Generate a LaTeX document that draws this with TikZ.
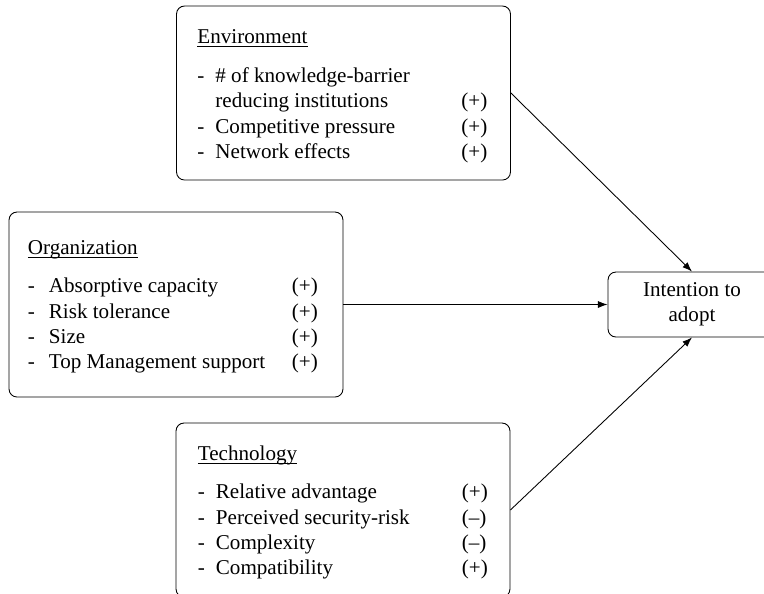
\documentclass[tikz,border=0pt]{standalone}
\usepackage{fontspec}
\setmainfont{Liberation Serif}
\usepackage{array}
\usetikzlibrary{arrows.meta}
\usetikzlibrary{positioning}
\tikzset{box/.style = {draw, rounded corners=4.5pt, line width=0.5pt, inner sep=0, minimum width=6.68cm}}
\tikzset{factors/.style = {anchor=base west, inner sep=0, font=\fontsize{12}{14.3}\selectfont}}
\tikzset{arr/.style = {-{Latex[length=5.5pt, width=4pt]}, line width=0.5pt}}
\newcommand{\heading}[1]{\multicolumn{3}{@{}l@{}}{\underline{\smash{#1}}}}

\begin{document}
\begin{tikzpicture}[x=0.02cm, y=-0.02cm]
    \clip (0, 0) rectangle (764, 593);

    \node [box, minimum height=3.48cm] (env) at (343.5, 93) {};
    \node [box, minimum height=3.7cm] (org) at (176, 304.5) {};
    \node [box, minimum height=3.48cm] (tech) at (343, 510) {};
    \node [box, minimum width=3.36cm, minimum height=1.3cm, align=center,
      font=\fontsize{12}{14.3}\selectfont] (int) at (692, 304.5) {Intention to\\adopt};

    \node [factors] (envlist) at ([shift={(21, 38)}]env.north west) {%
      \begin{tabular}[t]{@{}p{0.36cm}@{}p{4.92cm}@{}l@{}}
        \heading{Environment} \\[8pt]
        - & \# of knowledge-barrier & \\
          & reducing institutions & (+) \\
        - & Competitive pressure & (+) \\
        - & Network effects & (+)
      \end{tabular}};
    \node [factors] (orglist) at ([shift={(19, 43)}]org.north west) {%
      \begin{tabular}[t]{@{}p{0.42cm}@{}p{4.86cm}@{}l@{}}
        \heading{Organization} \\[7.5pt]
        - & Absorptive capacity & (+) \\
        - & Risk tolerance & (+) \\
        - & Size & (+) \\
        - & Top Management support & (+)
      \end{tabular}};
    \node [factors] (techlist) at ([shift={(22, 38)}]tech.north west) {%
      \begin{tabular}[t]{@{}p{0.36cm}@{}p{4.92cm}@{}l@{}}
        \heading{Technology} \\[7.5pt]
        - & Relative advantage & (+) \\
        - & Perceived security-risk & (--) \\
        - & Complexity & (--) \\
        - & Compatibility & (+)
      \end{tabular}};

    \draw [arr] (env.east) -- (int.north);
    \draw [arr] (org.east) -- (int.west);
    \draw [arr] (tech.east) -- (int.south);
  \end{tikzpicture}
\end{document}
